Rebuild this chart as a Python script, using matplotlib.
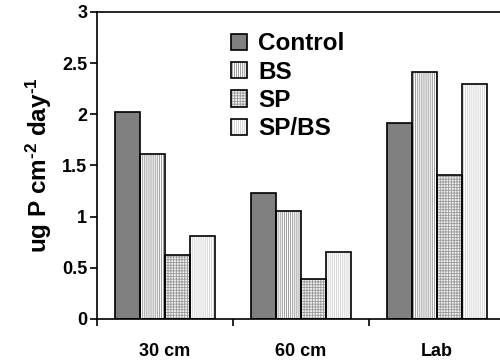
import numpy as np
import matplotlib.pyplot as plt
from matplotlib.patches import Patch

plt.rcParams['font.family'] = 'Liberation Sans'
plt.rcParams['font.weight'] = 'bold'
plt.rcParams['axes.labelweight'] = 'bold'
plt.rcParams['mathtext.fontset'] = 'custom'
plt.rcParams['mathtext.rm'] = 'Liberation Sans:bold'
plt.rcParams['mathtext.default'] = 'rm'
plt.rcParams['hatch.linewidth'] = 0.6

# data
sites = ['30 cm', '60 cm', 'Lab']
treatments = ['Control', 'BS', 'SP', 'SP/BS']
control = [2.02, 1.23, 1.91]
bs = [1.61, 1.05, 2.41]
sp = [0.62, 0.39, 1.41]
sp_bs = [0.81, 0.65, 2.30]

# fill and hatch for each treatment
styles = [
    dict(color='#808080', hatch=None, hatch_col=None),
    dict(color='white', hatch='||||||||', hatch_col='#8c8c8c'),
    dict(color='#f0f0f0', hatch='++++++', hatch_col='#9a9a9a'),
    dict(color='white', hatch='||||||||', hatch_col='#cfcfcf'),
]

fig = plt.figure(figsize=(5, 3.6), dpi=100)
ax = fig.add_axes([0.194, 0.114, 0.816, 0.853])

x = np.arange(len(sites)) + 1.0
w = 0.184
series = [control, bs, sp, sp_bs]
handles = []
for i, (vals, st) in enumerate(zip(series, styles)):
    pos = x + (i - 1.5) * w
    if st['hatch']:
        ax.bar(pos, vals, w, color=st['color'], hatch=st['hatch'],
               edgecolor=st['hatch_col'], linewidth=0, zorder=2)
    else:
        ax.bar(pos, vals, w, color=st['color'], linewidth=0, zorder=2)
    # black outline drawn on top
    ax.bar(pos, vals, w, fill=False, edgecolor='black', linewidth=1.2, zorder=3)
    handles.append(Patch(facecolor=st['color'], hatch=st['hatch'],
                         edgecolor=st['hatch_col'] or 'black', linewidth=0))

# outlined legend keys
leg_handles = []
for h, st in zip(handles, styles):
    leg_handles.append((h, Patch(fill=False, edgecolor='black', linewidth=1.2)))

ax.legend(leg_handles, treatments, loc='upper left', bbox_to_anchor=(0.305, 0.965),
          frameon=False, fontsize=17.5, handlelength=0.65, handleheight=0.65,
          handletextpad=0.45, labelspacing=0.22, borderaxespad=0)

ax.set_xlim(0.5, 3.5)
ax.set_ylim(0, 3)
ax.set_yticks([0, 0.5, 1, 1.5, 2, 2.5, 3])
ax.set_yticklabels(['0', '0.5', '1', '1.5', '2', '2.5', '3'])
ax.set_xticks([0.5, 1.5, 2.5])
ax.set_xticklabels([])
ax.set_xticks(x, minor=True)
ax.set_xticklabels(sites, minor=True)
ax.tick_params(axis='x', which='major', direction='out', length=5, width=1.2)
ax.tick_params(axis='x', which='minor', length=0, pad=17, labelsize=13)
ax.tick_params(axis='y', direction='out', length=5, width=1.2, pad=2, labelsize=13)

for s in ax.spines.values():
    s.set_linewidth(1.2)

ax.set_ylabel('ug P cm$^{\u20102}$ day$^{\u20101}$', fontsize=17.5, labelpad=6)

fig.savefig('out.png', dpi=100)
